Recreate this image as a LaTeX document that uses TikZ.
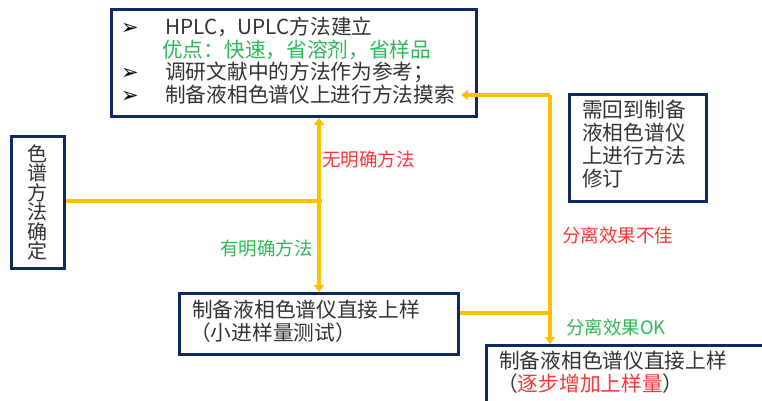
\documentclass[tikz,border=0pt]{standalone}
\usepackage{fontspec}
\setmainfont{Noto Sans CJK SC}
\newfontfamily\dvfont{DejaVu Sans}
\usetikzlibrary{arrows.meta}
\definecolor{navy}{HTML}{0E2A63}
\definecolor{amber}{HTML}{FFC000}
\definecolor{okgreen}{HTML}{2EB857}
\definecolor{badred}{HTML}{FF3535}
\newcommand{\arrowbullet}{\makebox[44pt][l]{\dvfont\bfseries\fontsize{21}{21}\selectfont\color{black}➢}}

\begin{document}
\begin{tikzpicture}[x=1pt,y=-1pt,>={Triangle[width=10pt,length=7pt]},
  box/.style={draw=navy,line width=2.8pt,fill=white,inner sep=0pt},
  flow/.style={draw=amber,line width=3.3pt},
  txt/.style={font=\fontsize{20.7}{23}\selectfont,text=black!80,inner sep=0pt,align=left},
  lbl/.style={font=\fontsize{18.5}{20}\selectfont,inner sep=0pt}]
\useasboundingbox (0,0) rectangle (762,400);
\clip (0,0) rectangle (762,400);

% boxes
\node[box,minimum width=365,minimum height=107,anchor=north west] (top) at (110,8) {};
\node[box,minimum width=53,minimum height=132,anchor=north west] (left) at (10,135) {};
\node[box,minimum width=279,minimum height=61,anchor=north west] (mid) at (178,292) {};
\node[box,minimum width=137,minimum height=107,anchor=north west] (redo) at (568,93) {};
\node[box,minimum width=300,minimum height=80,anchor=north west] (final) at (485,344) {};

% top box text
\node[txt,anchor=base west] (t1) at (121,34) {\arrowbullet HPLC，UPLC方法建立};
\node[txt,anchor=base west,text=okgreen] (t2) at (162,57) {优点：快速，省溶剂，省样品};
\node[txt,anchor=base west] (t3) at (121,79) {\arrowbullet 调研文献中的方法作为参考；};
\node[txt,anchor=base west] (t4) at (121,102) {\arrowbullet 制备液相色谱仪上进行方法摸索};

% other box text
\node[txt,align=center,font=\fontsize{20}{19.5}\selectfont] (lt) at (left) {色\\谱\\方\\法\\确\\定};
\node[txt,anchor=north west] (mt) at (192,300) {制备液相色谱仪直接上样\\\hspace{-2pt}（小进样量测试）};
\node[txt,anchor=north west] (rt) at (582,100) {需回到制备\\液相色谱仪\\上进行方法\\修订};
\node[txt,anchor=north west] (ft) at (499,351) {制备液相色谱仪直接上样\\\hspace{-2pt}（\textcolor{badred}{逐步增加上样量}）};

% junctions
\coordinate (j1) at (319,201);
\coordinate (j2) at (550,313);
\coordinate (j3) at (550,95);

% connectors
\draw[flow] (left.east |- j1) -- ([xshift=3pt]j1);
\draw[flow,->] (j1) -- (top.south -| j1);
\draw[flow,->] (j1) -- (mid.north -| j1);
\draw[flow] (mid.east |- j2) -- (j2);
\draw[flow,->] (j3) -- (j2) -- (final.north -| j2);
\draw[flow,->] (j3) -- ([xshift=6pt]t4.east |- j3);

% labels
\node[lbl,text=badred,anchor=west] (nomethod) at (322,159) {无明确方法};
\node[lbl,text=okgreen,anchor=east] (hasmethod) at (313,248) {有明确方法};
\node[lbl,text=badred,anchor=west] (poor) at (562,235) {分离效果不佳};
\node[lbl,text=okgreen,anchor=west] (good) at (566,327) {分离效果OK};
\end{tikzpicture}
\end{document}
